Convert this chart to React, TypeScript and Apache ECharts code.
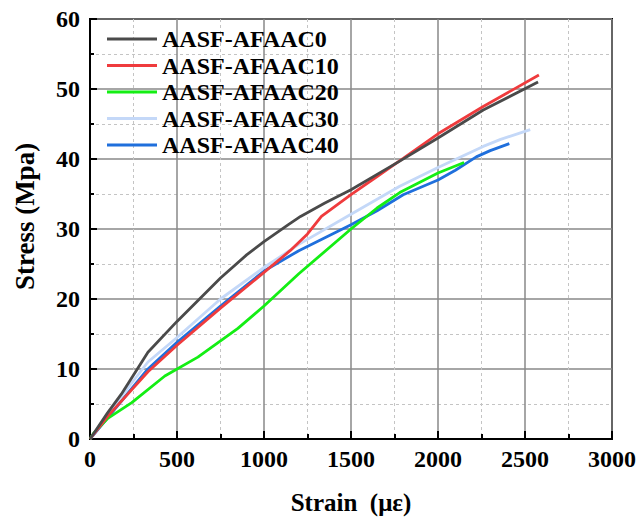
import React, { useEffect, useRef } from "react";
import * as echarts from "echarts";

const seriesNames = ["AASF-AFAAC0", "AASF-AFAAC10", "AASF-AFAAC20", "AASF-AFAAC30", "AASF-AFAAC40"];
const seriesColors = ["#4a4a4a", "#ef3b3d", "#14ee14", "#c4d8f8", "#1f6fdc"];

const c0Strain = [0, 100, 180, 333, 500, 750, 900, 1000, 1138, 1210, 1350, 1500, 1780, 2000, 2260, 2575];
const c0Stress = [0, 3.7, 6.4, 12.4, 16.8, 23.0, 26.3, 28.2, 30.6, 31.8, 33.7, 35.6, 39.7, 43.0, 47.0, 51.0];

const c10Strain = [0, 100, 333, 500, 750, 1000, 1150, 1250, 1330, 1500, 1650, 1800, 2000, 2260, 2580];
const c10Stress = [0, 3.2, 9.6, 13.4, 18.7, 23.8, 26.9, 29.3, 31.8, 34.9, 37.5, 40.1, 43.6, 47.5, 52.0];

const c20Strain = [0, 20, 100, 240, 430, 620, 850, 1000, 1200, 1500, 1650, 1780, 2000, 2150];
const c20Stress = [0, 0.8, 2.9, 5.2, 9.0, 11.7, 15.8, 19.0, 23.6, 30.0, 33.0, 35.2, 38.0, 39.5];

const c30Strain = [0, 100, 333, 500, 750, 1000, 1200, 1500, 1780, 2000, 2260, 2360, 2530];
const c30Stress = [0, 3.5, 11.0, 14.5, 20.0, 24.5, 27.8, 32.1, 36.1, 38.8, 41.8, 42.8, 44.2];

const c40Strain = [0, 100, 333, 500, 750, 1000, 1200, 1500, 1650, 1800, 2000, 2100, 2220, 2300, 2410];
const c40Stress = [0, 3.0, 10.0, 13.8, 19.0, 24.0, 26.9, 30.6, 32.6, 34.9, 37.0, 38.4, 40.3, 41.2, 42.2];

const strains = [c0Strain, c10Strain, c20Strain, c30Strain, c40Strain];
const stresses = [c0Stress, c10Stress, c20Stress, c30Stress, c40Stress];

const FONT = "'Liberation Serif', 'Times New Roman', serif";

export default function App() {
  const ref = useRef<HTMLDivElement>(null);
  useEffect(() => {
    if (!ref.current) return;
    const chart = echarts.init(ref.current, undefined, { renderer: "svg" });
    const series = seriesNames.map((name, i) => ({
      name,
      type: "line",
      data: strains[i].map((x, j) => [x, stresses[i][j]]),
      symbol: "none",
      lineStyle: { color: seriesColors[i], width: 2.8 },
      itemStyle: { color: seriesColors[i] },
      z: 10 - i,
    }));
    chart.setOption({
      animation: false,
      backgroundColor: "#fff",
      grid: {
        left: 90,
        right: 27,
        top: 19,
        bottom: 80,
        show: true,
        borderColor: "#000",
        borderWidth: 2,
        backgroundColor: "transparent",
      },
      legend: {
        data: seriesNames,
        orient: "vertical",
        left: 102,
        top: 22,
        itemWidth: 50,
        itemHeight: 3,
        itemGap: 2.5,
        icon: "rect",
        itemStyle: { borderWidth: 0 },
        textStyle: { fontFamily: FONT, fontWeight: "bold", fontSize: 24, color: "#000", lineHeight: 24 },
      },
      xAxis: {
        type: "value",
        min: 0,
        max: 3000,
        interval: 500,
        name: "Strain  (με)",
        nameLocation: "middle",
        nameGap: 51,
        nameTextStyle: { fontFamily: FONT, fontWeight: "bold", fontSize: 25, color: "#000" },
        axisLine: { show: true, lineStyle: { color: "#000", width: 2 } },
        axisTick: { show: true, inside: true, length: 8, lineStyle: { color: "#000", width: 2 } },
        minorTick: { show: true, splitNumber: 2, length: 5, lineStyle: { color: "#000", width: 2 } },
        axisLabel: {
          fontFamily: FONT, fontWeight: "bold", fontSize: 24, color: "#000", margin: 8,
          formatter: (v: number) => String(v),
        },
        splitLine: { show: true, lineStyle: { color: "#888", width: 1.5 } },
        minorSplitLine: { show: true, lineStyle: { color: "#c4c4c4", width: 1, type: [3, 3] } },
      },
      yAxis: {
        type: "value",
        min: 0,
        max: 60,
        interval: 10,
        name: "Stress (Mpa)",
        nameLocation: "middle",
        nameGap: 52,
        nameTextStyle: { fontFamily: FONT, fontWeight: "bold", fontSize: 27, color: "#000", padding: [0, 0, 0, 25] },
        axisLine: { show: true, lineStyle: { color: "#000", width: 2 } },
        axisTick: { show: true, inside: true, length: 7, lineStyle: { color: "#000", width: 2 } },
        minorTick: { show: true, splitNumber: 2, length: 4, lineStyle: { color: "#000", width: 2 } },
        axisLabel: { fontFamily: FONT, fontWeight: "bold", fontSize: 24, color: "#000", margin: 10 },
        splitLine: { show: true, lineStyle: { color: "#888", width: 1.5 } },
        minorSplitLine: { show: true, lineStyle: { color: "#c4c4c4", width: 1, type: [3, 3] } },
      },
      series,
    });
    return () => chart.dispose();
  }, []);
  return <div ref={ref} style={{ width: 639, height: 520, position: "absolute", left: 0, top: 0 }} />;
}
